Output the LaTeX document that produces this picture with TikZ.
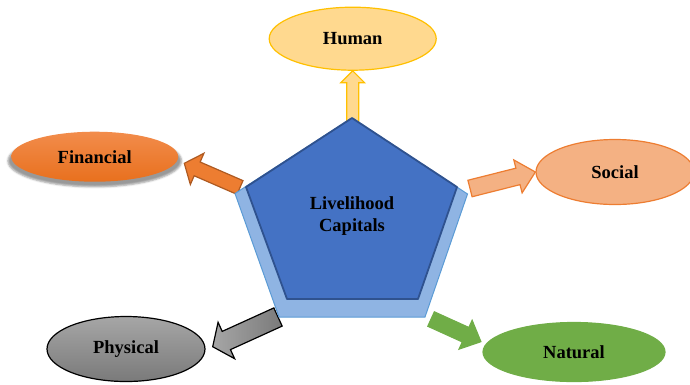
\documentclass[tikz,border=0pt]{standalone}
\usepackage{fontspec}
\setmainfont{Liberation Serif}
\usetikzlibrary{shapes.geometric,calc,shadows.blur}
\definecolor{humanfill}{HTML}{FFD98F}
\definecolor{humanline}{HTML}{FFC000}
\definecolor{fintop}{HTML}{F28C4B}
\definecolor{finbottom}{HTML}{E8701E}
\definecolor{finfill}{HTML}{ED7D31}
\definecolor{finline}{HTML}{AE5A21}
\definecolor{socfill}{HTML}{F4B183}
\definecolor{socline}{HTML}{ED7D31}
\definecolor{phylight}{HTML}{A6A6A6}
\definecolor{phydark}{HTML}{7A7A7A}
\definecolor{natfill}{HTML}{70AD47}
\definecolor{pentfront}{HTML}{4472C4}
\definecolor{pentfrontline}{HTML}{2F528F}
\definecolor{pentback}{HTML}{8FB4E3}
\definecolor{pentbackline}{HTML}{5B9BD5}
\tikzset{body half/.store in=\bodyhalf, head half/.store in=\headhalf, head len/.store in=\headlen}
\tikzstyle{capital}=[ellipse, inner sep=0pt, line width=1.2pt, font=\fontsize{18.5}{21.5}\selectfont\bfseries]
\tikzstyle{capitalhuman}=[capital, fill=humanfill, draw=humanline, minimum width=167pt, minimum height=63pt]
\tikzstyle{capitalfin}=[capital, top color=fintop, bottom color=finbottom, draw=none, minimum width=167pt, minimum height=50pt, blur shadow={shadow xshift=0pt, shadow yshift=-4pt, shadow scale=1.04}]
\tikzstyle{capitalsoc}=[capital, fill=socfill, draw=socline, minimum width=158pt, minimum height=65pt]
\tikzstyle{capitalphy}=[capital, top color=phylight, bottom color=phydark, draw=black, minimum width=158pt, minimum height=65pt]
\tikzstyle{capitalnat}=[capital, fill=natfill, draw=natfill, minimum width=182pt, minimum height=59pt]
\tikzstyle{arrowhuman}=[fill=humanfill, draw=humanline, line width=1.2pt, body half=6pt, head half=12pt, head len=12pt]
\tikzstyle{arrowfin}=[fill=finfill, draw=finline, line width=1.2pt, body half=7.5pt, head half=17pt, head len=14pt]
\tikzstyle{arrowsoc}=[fill=socfill, draw=socline, line width=1.2pt, body half=8.5pt, head half=17pt, head len=18pt]
\tikzstyle{arrowphy}=[left color=phylight, right color=phydark, draw=black, line width=1.2pt, body half=10pt, head half=20pt, head len=15pt]
\tikzstyle{arrownat}=[fill=natfill, draw=natfill, line width=1pt, body half=8pt, head half=16pt, head len=17pt]
\newcommand\blockarrow[3]{%
  \path[#1] ($(#2)!\bodyhalf!90:(#3)$)
    -- ($($(#3)!\headlen!(#2)$)!\bodyhalf!-90:(#2)$)
    -- ($($(#3)!\headlen!(#2)$)!\headhalf!-90:(#2)$)
    -- (#3)
    -- ($($(#3)!\headlen!(#2)$)!\headhalf!90:(#2)$)
    -- ($($(#3)!\headlen!(#2)$)!\bodyhalf!90:(#2)$)
    -- ($(#2)!\bodyhalf!-90:(#3)$) -- cycle;}

\begin{document}
\begin{tikzpicture}[x=1pt, y=-1pt]
  \useasboundingbox (0, 0) rectangle (690, 384);
  \begin{scope}
    \node (human) at (352.7, 38.7)[capitalhuman] {Human};
    \node (financial) at (94.7, 156.7)[capitalfin] {Financial};
    \node (social) at (615, 172)[capitalsoc] {Social};
    \node (physical) at (126, 349)[capitalphy] {Physical};
    \node (natural) at (574, 352)[capitalnat] {Natural};
  \end{scope}
  \begin{scope}
    \coordinate (humantail) at (352.7, 130);
    \coordinate (fintail) at (240, 187.5);
    \coordinate (fintip) at (184.3, 163.3);
    \coordinate (soctail) at (470, 188.5);
    \coordinate (phytail) at (278, 317);
    \coordinate (phytip) at (212.7, 346.7);
    \coordinate (nattail) at (431, 319);
    \coordinate (nattip) at (481, 341.7);
  \end{scope}
  \begin{scope}
    \blockarrow{arrowhuman}{humantail}{human.south}
    \blockarrow{arrowfin}{fintail}{fintip}
    \blockarrow{arrowsoc}{soctail}{social.west}
    \blockarrow{arrowphy}{phytail}{phytip}
    \blockarrow{arrownat}{nattail}{nattip}
  \end{scope}
  \begin{scope}
    \coordinate (b1) at (352, 118);
    \coordinate (b2) at (467.5, 194);
    \coordinate (b3) at (425, 317);
    \coordinate (b4) at (279, 317);
    \coordinate (b5) at (235, 193.5);
    \coordinate (f1) at (352, 118);
    \coordinate (f2) at (457, 187);
    \coordinate (f3) at (418, 299);
    \coordinate (f4) at (287, 299);
    \coordinate (f5) at (246, 187);
    \path [fill=pentback, draw=pentbackline, line width=1pt] (b1) -- (b2) -- (b3) -- (b4) -- (b5) -- cycle;
    \path [fill=pentfront, draw=pentfrontline, line width=1.8pt, line join=round] (f1) -- (f2) -- (f3) -- (f4) -- (f5) -- cycle;
    \node (capitals) at (352, 216)[align=center, font=\fontsize{18.5}{21.5}\selectfont\bfseries] {Livelihood\\Capitals};
  \end{scope}
\end{tikzpicture}
\end{document}
